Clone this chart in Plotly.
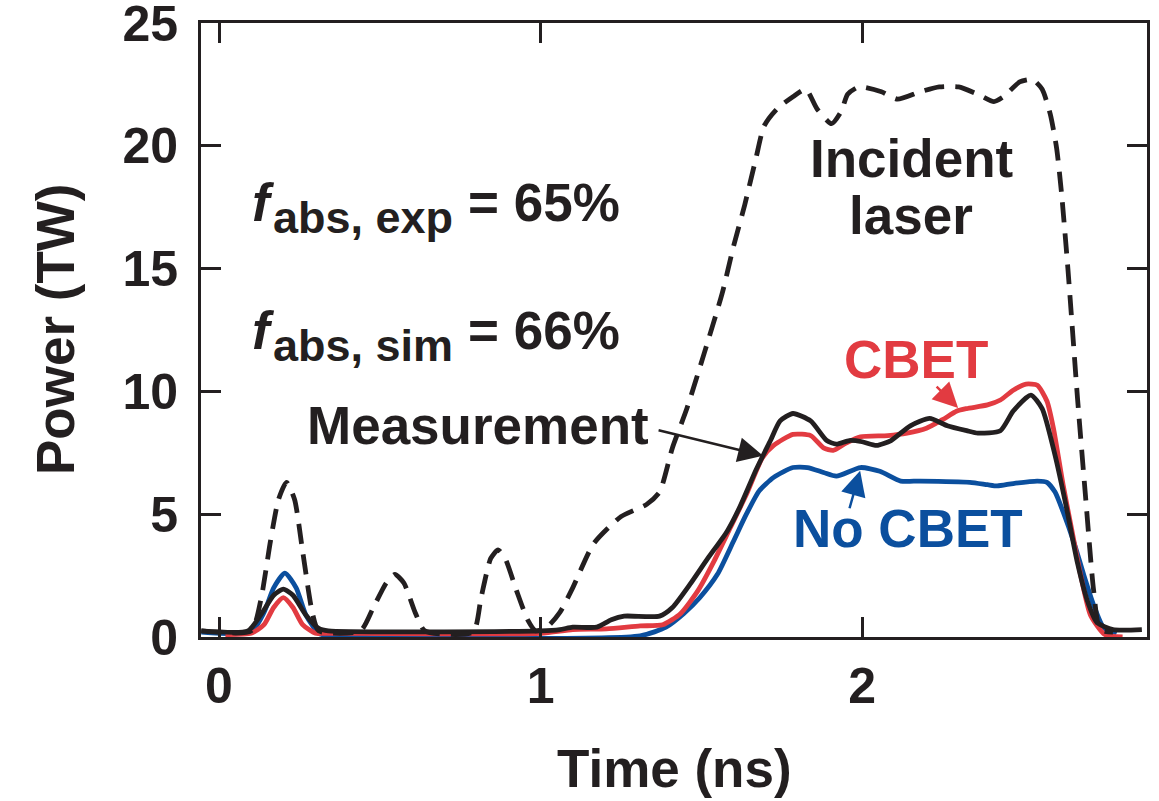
import plotly.graph_objects as go

# ---------------- data ----------------
laser_t = [-0.055, 0.10, 0.13, 0.16, 0.185, 0.21, 0.235, 0.26, 0.29, 0.31, 0.44, 0.48, 0.52, 0.547,
           0.575, 0.61, 0.64, 0.79, 0.815, 0.845, 0.868, 0.89, 0.925, 0.96, 0.985, 1.02, 1.06, 1.10,
           1.165, 1.25, 1.33, 1.37, 1.41, 1.455, 1.51, 1.565, 1.60, 1.635, 1.67, 1.695, 1.735, 1.785,
           1.825, 1.86, 1.905, 1.935, 1.955, 1.99, 2.06, 2.11, 2.18, 2.24, 2.30, 2.36, 2.41, 2.44,
           2.49, 2.53, 2.56, 2.585, 2.605, 2.62, 2.64, 2.67, 2.695, 2.72, 2.74, 2.78]
laser_P = [0.25, 0.25, 1.5, 3.9, 5.6, 6.3, 5.6, 3.5, 1.0, 0.25, 0.25, 1.2, 2.2, 2.55,
           2.2, 1.0, 0.25, 0.2, 1.6, 3.2, 3.55, 3.2, 1.9, 0.7, 0.25, 0.4, 1.0, 2.0,
           3.8, 4.9, 5.4, 5.9, 7.7, 9.3, 11.6, 14.0, 15.9, 17.6, 19.5, 20.8, 21.5, 22.0,
           22.3, 21.5, 20.9, 21.4, 22.1, 22.4, 22.2, 21.9, 22.2, 22.4, 22.4, 22.1, 21.8, 22.0,
           22.6, 22.7, 22.3, 21.3, 19.9, 18.1, 15.0, 9.7, 5.7, 1.9, 0.3, 0.2]

meas_t = [-0.055, 0.09, 0.13, 0.17, 0.20, 0.23, 0.27, 0.31, 0.34, 1.0, 1.06, 1.10, 1.175, 1.22,
          1.26, 1.37, 1.41, 1.465, 1.52, 1.58, 1.62, 1.67, 1.715, 1.745, 1.785, 1.84, 1.89, 1.92,
          1.96, 2.0, 2.045, 2.09, 2.15, 2.21, 2.265, 2.325, 2.36, 2.43, 2.47, 2.525, 2.56, 2.60,
          2.635, 2.67, 2.70, 2.73, 2.78, 2.87]
meas_P = [0.25, 0.25, 0.9, 1.7, 1.95, 1.7, 0.9, 0.35, 0.25, 0.25, 0.3, 0.4, 0.4, 0.7,
          0.85, 0.85, 1.2, 2.15, 3.2, 4.3, 5.3, 6.8, 8.0, 8.8, 9.1, 8.8, 8.0, 7.85,
          8.0, 7.95, 7.8, 8.0, 8.6, 8.9, 8.6, 8.4, 8.3, 8.4, 9.2, 9.85, 9.3, 7.4,
          5.3, 3.0, 1.5, 0.6, 0.3, 0.3]

cbet_t = [0.02, 0.10, 0.14, 0.17, 0.20, 0.23, 0.26, 0.30, 0.33, 1.0, 1.10, 1.205, 1.31, 1.38,
          1.435, 1.49, 1.54, 1.59, 1.64, 1.69, 1.725, 1.785, 1.84, 1.88, 1.91, 1.95, 1.995, 2.08,
          2.14, 2.20, 2.25, 2.295, 2.325, 2.39, 2.43, 2.47, 2.51, 2.545, 2.575, 2.595, 2.625,
          2.65, 2.68, 2.71, 2.755, 2.81]
cbet_P = [0.1, 0.15, 0.5, 1.2, 1.6, 1.2, 0.5, 0.15, 0.15, 0.15, 0.3, 0.33, 0.45, 0.5,
          0.95, 1.9, 3.1, 4.45, 5.8, 7.3, 7.8, 8.25, 8.2, 7.7, 7.6, 7.9, 8.15, 8.2,
          8.3, 8.5, 8.85, 9.2, 9.3, 9.45, 9.65, 10.05, 10.3, 10.25, 9.6, 8.5, 6.2,
          4.5, 2.5, 0.9, 0.1, 0.0]

nocbet_t = [-0.055, 0.10, 0.14, 0.17, 0.205, 0.24, 0.27, 0.31, 0.34, 1.31, 1.39, 1.445, 1.495,
            1.55, 1.60, 1.64, 1.68, 1.725, 1.785, 1.83, 1.88, 1.92, 1.995, 2.055, 2.12, 2.18,
            2.335, 2.39, 2.42, 2.47, 2.545, 2.575, 2.60, 2.625, 2.66, 2.69, 2.72, 2.75, 2.79]
nocbet_P = [0.2, 0.2, 1.0, 2.0, 2.6, 2.0, 0.9, 0.15, 0.05, 0.05, 0.4, 0.95, 1.6,
            2.55, 3.9, 5.0, 5.95, 6.5, 6.9, 6.9, 6.7, 6.55, 6.9, 6.75, 6.35, 6.35,
            6.3, 6.2, 6.15, 6.25, 6.35, 6.3, 5.9, 5.1, 3.8, 2.5, 1.3, 0.4, 0.1]

x_ticks = [0, 1, 2]
y_ticks = [0, 5, 10, 15, 20, 25]

# ---------------- style ----------------
BLACK = "#231f20"
RED = "#e23b41"
BLUE = "#0b4f9e"
FONT = "Liberation Sans, Arial, Helvetica, sans-serif"
BIG = 53
SUB = 45
LW = 4.8

fig = go.Figure()
fig.add_trace(go.Scatter(x=nocbet_t, y=nocbet_P, mode="lines",
                         line=dict(color=BLUE, width=LW, shape="spline", smoothing=0.6)))
fig.add_trace(go.Scatter(x=cbet_t, y=cbet_P, mode="lines",
                         line=dict(color=RED, width=LW, shape="spline", smoothing=0.6)))
fig.add_trace(go.Scatter(x=meas_t, y=meas_P, mode="lines",
                         line=dict(color=BLACK, width=LW, shape="spline", smoothing=0.6)))
fig.add_trace(go.Scatter(x=laser_t, y=laser_P, mode="lines",
                         line=dict(color=BLACK, width=LW, dash="20px,11px",
                                   shape="spline", smoothing=0.6)))


# reference pixel -> data coordinate helpers (for annotation placement only)
def X(px):
    return (px - 219) / 321.5


def Y(py):
    return (640 - py) / 24.67


def txt(x, y, text, size=BIG, color=BLACK, xanchor="center"):
    fig.add_annotation(x=X(x), y=Y(y), text=text, showarrow=False, xanchor=xanchor,
                       yanchor="middle",
                       font=dict(family=FONT, size=size, color=color, weight="bold"))


# f_abs labels
for cy, sub, val in [(204, "abs, exp", "= 65%"), (332, "abs, sim", "= 66%")]:
    txt(250, cy, "<i>f</i>", xanchor="left")
    txt(271, cy + 15, sub, size=SUB, xanchor="left")
    txt(466, cy, val, xanchor="left")

txt(305, 428, "Measurement", xanchor="left")
txt(911, 159, "Incident")
txt(911, 217, "laser")
txt(916, 361, "CBET", color=RED)
txt(908, 531, "No CBET", color=BLUE)


def arrow(tail, tip, color):
    fig.add_annotation(x=X(tip[0]), y=Y(tip[1]), ax=tail[0] - tip[0], ay=tail[1] - tip[1],
                       axref="pixel", ayref="pixel", text="", showarrow=True,
                       arrowhead=2, arrowsize=2.0, arrowwidth=2.5, arrowcolor=color,
                       standoff=0, startstandoff=0)


arrow((657, 432), (763, 458), BLACK)
arrow((935, 387), (958, 410), RED)
arrow((849, 512), (860, 473), BLUE)

# axis titles
fig.add_annotation(x=0.5, y=0, xref="paper", yref="paper", text="Time (ns)", showarrow=False,
                   xanchor="center", yanchor="top", yshift=-100,
                   font=dict(family=FONT, size=BIG, color=BLACK, weight="bold"))
fig.add_annotation(x=0, y=0.5, xref="paper", yref="paper", text="Power (TW)", showarrow=False,
                   textangle=-90, xanchor="center", yanchor="middle", xshift=-146,
                   font=dict(family=FONT, size=BIG, color=BLACK, weight="bold"))

axis_common = dict(showline=True, linewidth=3, linecolor=BLACK, mirror="ticks",
                   ticks="inside", ticklen=20, tickwidth=2.5, tickcolor=BLACK,
                   showgrid=False, zeroline=False, ticklabeloverflow="allow",
                   automargin=False,
                   tickfont=dict(family=FONT, size=50, color=BLACK, weight="bold"))

fig.update_layout(
    width=1159, height=801,
    margin=dict(l=201, r=12, t=23, b=164, autoexpand=False),
    paper_bgcolor="white", plot_bgcolor="white",
    showlegend=False,
    xaxis=dict(range=[-0.056, 2.886], tickvals=x_ticks, ticktext=[str(v) for v in x_ticks],
               ticklabelstandoff=3, **axis_common),
    yaxis=dict(range=[0, 25.001], tickvals=y_ticks, ticktext=[str(v) for v in y_ticks],
               ticklabelstandoff=10, **axis_common),
)

fig.write_html("out.html")
